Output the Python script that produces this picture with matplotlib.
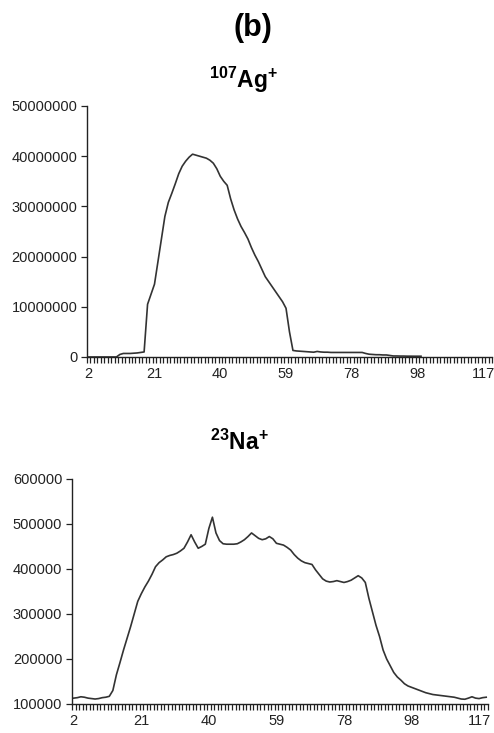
import matplotlib
matplotlib.use("Agg")
import matplotlib.pyplot as plt
import numpy as np

plt.rcParams["font.family"] = ["Liberation Sans", "DejaVu Sans"]
plt.rcParams["mathtext.fontset"] = "custom"
plt.rcParams["mathtext.rm"] = "Liberation Sans"
plt.rcParams["mathtext.bf"] = "Liberation Sans:bold"

# scan categories and the labels shown under every 19th one
n_cat = 117
label_pos = [0, 19, 38, 57, 76, 95, 114]
label_txt = ["2", "21", "40", "59", "78", "98", "117"]

# 107Ag+ signal (counts), recorded until category 96
ag_counts = [
    0, 0, 0, 0, 0, 0, 0, 0, 0, 0.5e6,
    0.7e6, 0.7e6, 0.7e6, 0.75e6, 0.8e6, 0.9e6, 1.0e6, 10.5e6, 12.5e6, 14.5e6,
    19.0e6, 23.5e6, 28.0e6, 30.8e6, 32.6e6, 34.5e6, 36.5e6, 38.0e6, 39.0e6, 39.8e6,
    40.4e6, 40.2e6, 40.0e6, 39.8e6, 39.6e6, 39.2e6, 38.6e6, 37.5e6, 36.0e6, 35.0e6,
    34.2e6, 31.5e6, 29.3e6, 27.5e6, 26.0e6, 24.8e6, 23.5e6, 21.8e6, 20.3e6, 19.0e6,
    17.5e6, 16.0e6, 15.0e6, 14.0e6, 13.0e6, 12.0e6, 11.0e6, 9.7e6, 5.0e6, 1.3e6,
    1.2e6, 1.15e6, 1.1e6, 1.05e6, 1.0e6, 0.95e6, 1.1e6, 1.0e6, 0.95e6, 0.95e6,
    0.9e6, 0.9e6, 0.9e6, 0.9e6, 0.9e6, 0.9e6, 0.9e6, 0.9e6, 0.9e6, 0.9e6,
    0.7e6, 0.55e6, 0.5e6, 0.45e6, 0.45e6, 0.4e6, 0.4e6, 0.3e6, 0.2e6, 0.2e6,
    0.18e6, 0.18e6, 0.16e6, 0.16e6, 0.15e6, 0.15e6, 0.15e6,
]

# 23Na+ signal (counts)
na_counts = [
    113000, 114000, 116000, 115000, 113000, 112000, 111000, 112000, 114000, 115000,
    117000, 130000, 165000, 192000, 220000, 246000, 272000, 300000, 328000, 345000,
    360000, 373000, 388000, 405000, 414000, 420000, 427000, 430000, 432000, 435000,
    440000, 446000, 460000, 476000, 460000, 446000, 450000, 455000, 490000, 515000,
    480000, 463000, 456000, 455000, 455000, 455000, 456000, 460000, 465000, 472000,
    480000, 474000, 468000, 465000, 467000, 472000, 467000, 457000, 455000, 453000,
    448000, 442000, 432000, 424000, 418000, 414000, 412000, 410000, 398000, 388000,
    378000, 373000, 371000, 372000, 374000, 372000, 370000, 372000, 375000, 380000,
    385000, 380000, 370000, 335000, 305000, 275000, 250000, 220000, 200000, 185000,
    170000, 160000, 153000, 145000, 140000, 137000, 134000, 131000, 128000, 125000,
    123000, 121000, 120000, 119000, 118000, 117000, 116000, 115000, 113000, 111000,
    110500, 113000, 116000, 113000, 112000, 114000, 115000,
]

ag_ticks = [0, 10000000, 20000000, 30000000, 40000000, 50000000]
na_ticks = [100000, 200000, 300000, 400000, 500000, 600000]

axis_col = "#222222"
line_col = "#333333"


def style_axis(ax, yticks):
    ax.spines["top"].set_visible(False)
    ax.spines["right"].set_visible(False)
    for s in ("left", "bottom"):
        ax.spines[s].set_color(axis_col)
        ax.spines[s].set_linewidth(1.0)
    ax.set_xlim(-0.5, n_cat - 0.5)
    ax.set_ylim(yticks[0], yticks[-1])
    ax.set_yticks(yticks)
    ax.set_yticklabels([str(v) for v in yticks])
    # category labels without marks, marks between categories
    ax.set_xticks(label_pos)
    ax.set_xticklabels(label_txt)
    ax.set_xticks(np.arange(n_cat + 1) - 0.5, minor=True)
    ax.tick_params(axis="x", which="major", length=0, pad=7,
                   labelsize=10.5, labelcolor="#222222")
    ax.tick_params(axis="x", which="minor", length=4, width=0.9,
                   direction="out", color=axis_col)
    ax.tick_params(axis="y", length=4, width=0.9, direction="out",
                   color=axis_col, labelsize=10.5, labelcolor="#222222", pad=3)


fig = plt.figure(figsize=(4.94, 7.33), dpi=100)

ax1 = fig.add_axes([0.1761, 0.5130, 0.8198, 0.3424])
ax1.plot(np.arange(len(ag_counts)), ag_counts, color=line_col, lw=1.2)
style_axis(ax1, ag_ticks)

ax2 = fig.add_axes([0.1457, 0.0396, 0.8421, 0.3070])
ax2.plot(np.arange(len(na_counts)), na_counts, color=line_col, lw=1.2)
style_axis(ax2, na_ticks)

fig.text(0.512, 1 - 28 / 733, "(b)", ha="center", va="center",
         fontsize=22, fontweight="bold")
fig.text(0.492, 1 - 80 / 733, r"$\mathbf{^{107}Ag^{+}}$", ha="center",
         va="center", fontsize=16.5)
fig.text(0.484, 1 - 442 / 733, r"$\mathbf{^{23}Na^{+}}$", ha="center",
         va="center", fontsize=16.5)

fig.savefig("out.png", dpi=100)
